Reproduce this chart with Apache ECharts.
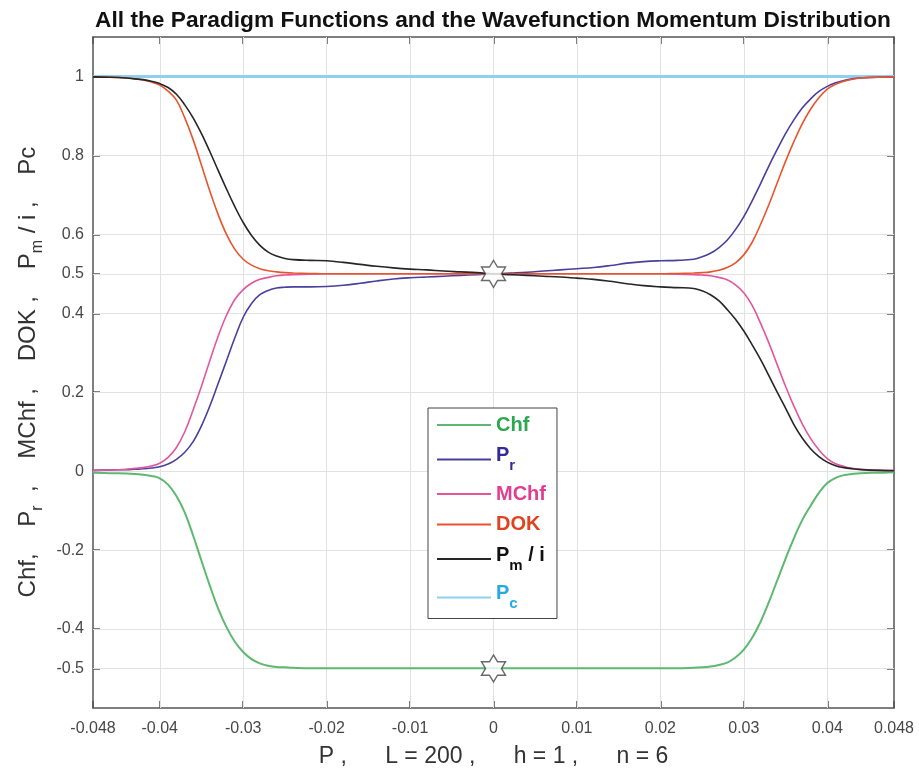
<!DOCTYPE html>
<html><head><meta charset="utf-8">
<script src="https://cdn.jsdelivr.net/npm/echarts@6/dist/echarts.min.js"></script>
<style>html,body{margin:0;padding:0;background:#fff}#c{width:919px;height:775px}</style>
</head><body><div id="c"></div><script>
// momentum values P (finer where the curves change)
const P = [-0.048,-0.046,-0.044,-0.043,-0.042,-0.041,-0.040,-0.039,-0.038,-0.037,-0.036,-0.035,-0.034,-0.033,-0.032,-0.031,-0.030,-0.029,-0.028,-0.027,-0.026,-0.025,-0.024,
  -0.022,-0.020,-0.018,-0.016,-0.014,-0.012,-0.010,-0.008,-0.006,-0.004,-0.002,0,0.002,0.004,0.006,0.008,0.010,0.012,0.014,0.016,0.018,0.020,0.022,
  0.024,0.025,0.026,0.027,0.028,0.029,0.030,0.031,0.032,0.033,0.034,0.035,0.036,0.037,0.038,0.039,0.040,0.041,0.042,0.043,0.044,0.046,0.048];
const chf = [-0.004,-0.005,-0.006,-0.007,-0.009,-0.012,-0.018,-0.034,-0.063,-0.105,-0.163,-0.227,-0.29,-0.348,-0.395,-0.432,-0.458,-0.476,-0.487,-0.493,-0.496,-0.497,-0.498,
  -0.499,-0.499,-0.499,-0.499,-0.499,-0.499,-0.499,-0.499,-0.499,-0.499,-0.499,-0.499,-0.499,-0.499,-0.499,-0.499,-0.499,-0.499,-0.499,-0.499,-0.499,-0.499,-0.499,
  -0.498,-0.497,-0.495,-0.491,-0.485,-0.472,-0.452,-0.422,-0.382,-0.332,-0.277,-0.222,-0.17,-0.124,-0.088,-0.055,-0.03,-0.017,-0.01,-0.007,-0.005,-0.004,-0.003];
const pr = [0.002,0.003,0.004,0.005,0.006,0.008,0.011,0.018,0.03,0.048,0.075,0.115,0.165,0.222,0.28,0.338,0.39,0.425,0.447,0.458,0.464,0.466,0.467,
  0.467,0.468,0.471,0.476,0.482,0.487,0.49,0.492,0.494,0.496,0.498,0.5,0.502,0.504,0.507,0.51,0.513,0.516,0.521,0.527,0.531,0.533,0.534,
  0.537,0.543,0.552,0.566,0.585,0.612,0.645,0.685,0.728,0.773,0.815,0.855,0.89,0.92,0.943,0.962,0.975,0.984,0.99,0.994,0.996,0.998,0.999];
const mchf = [0.002,0.003,0.005,0.007,0.009,0.013,0.02,0.035,0.06,0.1,0.155,0.215,0.28,0.342,0.395,0.435,0.46,0.476,0.486,0.491,0.495,0.497,0.498,
  0.499,0.5,0.5,0.5,0.5,0.5,0.5,0.5,0.5,0.5,0.5,0.5,0.5,0.5,0.5,0.5,0.5,0.5,0.5,0.5,0.5,0.5,0.499,
  0.498,0.497,0.495,0.491,0.485,0.472,0.452,0.42,0.375,0.325,0.27,0.215,0.165,0.12,0.083,0.054,0.032,0.019,0.012,0.007,0.005,0.003,0.002];
const dok = [0.999,0.998,0.996,0.994,0.991,0.986,0.978,0.963,0.94,0.895,0.84,0.775,0.71,0.65,0.6,0.562,0.537,0.522,0.513,0.508,0.505,0.503,0.502,
  0.501,0.5,0.5,0.5,0.5,0.5,0.5,0.5,0.5,0.5,0.5,0.5,0.5,0.5,0.5,0.5,0.5,0.5,0.5,0.5,0.5,0.5,0.501,
  0.502,0.503,0.505,0.509,0.516,0.528,0.548,0.58,0.625,0.675,0.73,0.785,0.835,0.88,0.917,0.946,0.968,0.98,0.988,0.993,0.996,0.998,0.999];
const pm = [0.999,0.998,0.996,0.994,0.992,0.988,0.982,0.972,0.955,0.928,0.895,0.855,0.81,0.762,0.715,0.67,0.63,0.597,0.572,0.555,0.545,0.539,0.536,
  0.534,0.533,0.529,0.524,0.519,0.515,0.512,0.51,0.507,0.505,0.503,0.5,0.498,0.496,0.494,0.492,0.489,0.486,0.481,0.475,0.47,0.467,0.465,
  0.463,0.457,0.447,0.432,0.41,0.385,0.355,0.32,0.283,0.242,0.2,0.16,0.118,0.084,0.057,0.037,0.023,0.014,0.009,0.006,0.004,0.002,0.001];
const pcP = [-0.048, 0.048];
const pcV = [1, 1];
const starP = [0, 0];
const starV = [0.5, -0.5];
const yTicks = [1, 0.8, 0.6, 0.5, 0.4, 0.2, 0, -0.2, -0.4, -0.5];
const xTicks = [-0.048, -0.04, -0.03, -0.02, -0.01, 0, 0.01, 0.02, 0.03, 0.04, 0.048];
const xGrid = [-0.04, -0.03, -0.02, -0.01, 0, 0.01, 0.02, 0.03, 0.04];
const names = ['Chf', 'Pr', 'MChf', 'DOK', 'Pm / i', 'Pc'];

const FONT = 'Liberation Sans, Arial, Helvetica, sans-serif';
const pair = (xs, ys) => xs.map((x, i) => [x, ys[i]]);
const starPath = 'path://M100 0 L128.9 50 L186.6 50 L157.7 100 L186.6 150 L128.9 150 L100 200 L71.1 150 L13.4 150 L42.3 100 L13.4 50 L71.1 50 Z';

const colors = {Chf:'#5cb96f', Pr:'#4a3f9e', MChf:'#e2579c', DOK:'#e8542c', 'Pm / i':'#262626', Pc:'#8fd0ef'};
const txt = {Chf:'#2ea84f', Pr:'#34289a', MChf:'#e03f90', DOK:'#e0431f', 'Pm / i':'#111', Pc:'#27aae1'};

function main(c){ return {fontSize:20, fontWeight:'bold', color:c, fontFamily:FONT, verticalAlign:'top'}; }
function sub(c){ return {fontSize:15, fontWeight:'bold', color:c, fontFamily:FONT, verticalAlign:'top', padding:[13,0,0,0]}; }
const legendRich = {
  chf: main(txt.Chf), pr: main(txt.Pr), prs: sub(txt.Pr), mchf: main(txt.MChf), dok: main(txt.DOK),
  pm: main(txt['Pm / i']), pms: sub(txt['Pm / i']), pc: main(txt.Pc), pcs: sub(txt.Pc)
};
const legendFmt = {Chf:'{chf|Chf}', Pr:'{pr|P}{prs|r}', MChf:'{mchf|MChf}', DOK:'{dok|DOK}', 'Pm / i':'{pm|P}{pms|m}{pm| / i}', Pc:'{pc|P}{pcs|c}'};

function lineSeries(name, data, width){
  return {name, type:'line', data, xAxisIndex:0, yAxisIndex:0, showSymbol:false, symbol:'none',
    smooth:0.4, lineStyle:{color:colors[name], width}, itemStyle:{color:colors[name]}, z:3};
}

const axisCol = '#555';
const chart = echarts.init(document.getElementById('c'), null, {renderer:'canvas'});
chart.setOption({
  animation:false,
  textStyle:{fontFamily:FONT},
  title:{text:'All the Paradigm Functions and the Wavefunction Momentum Distribution', left:488, top:4, textAlign:'center',
    textStyle:{fontSize:22.7, fontWeight:'bold', color:'#111', fontFamily:FONT}},
  grid:{left:93, right:25, top:37, bottom:67, containLabel:false},
  xAxis:[
    {type:'value', min:-0.048, max:0.048,
     axisLine:{onZero:false, lineStyle:{color:axisCol, width:1.5}},
     axisTick:{inside:true, length:7, customValues:xTicks, lineStyle:{color:axisCol, width:1.5}},
     axisLabel:{customValues:xTicks, fontSize:16, color:'#474747', margin:13, fontFamily:FONT},
     splitLine:{show:false},
     name:'P ,      L = 200 ,      h = 1 ,      n = 6', nameLocation:'middle', nameGap:37,
     nameTextStyle:{fontSize:23, color:'#333', fontFamily:FONT}},
    {type:'value', position:'top', min:-0.048, max:0.048,
     axisLine:{onZero:false, lineStyle:{color:axisCol, width:1.5}},
     axisTick:{inside:true, length:7, customValues:xTicks, lineStyle:{color:axisCol, width:1.5}},
     axisLabel:{show:false}, splitLine:{show:false}}
  ],
  yAxis:[
    {type:'value', min:-0.6, max:1.1,
     axisLine:{onZero:false, lineStyle:{color:axisCol, width:1.5}},
     axisTick:{inside:true, length:7, customValues:yTicks, lineStyle:{color:axisCol, width:1.5}},
     axisLabel:{customValues:yTicks, fontSize:16, color:'#474747', margin:9, fontFamily:FONT},
     splitLine:{show:false}},
    {type:'value', position:'right', min:-0.6, max:1.1,
     axisLine:{onZero:false, lineStyle:{color:axisCol, width:1.5}},
     axisTick:{inside:true, length:7, customValues:yTicks, lineStyle:{color:axisCol, width:1.5}},
     axisLabel:{show:false}, splitLine:{show:false}}
  ],
  legend:{
    data:names, orient:'vertical', left:428, top:408, icon:'rect', itemWidth:54, itemHeight:2, itemGap:10.5,
    padding:[7, 11, 7, 9], backgroundColor:'#fff', borderColor:'#444', borderWidth:1, borderRadius:0,
    selectedMode:false, z:6,
    formatter:(n) => legendFmt[n],
    textStyle:{rich:legendRich}
  },
  graphic:[{
    type:'text', x:31, y:372, rotation:Math.PI/2, z:10,
    style:{
      text:'{n|Chf,    P}{s|r}{n|  ,    MChf ,    DOK ,    P}{s|m}{n| / i ,    Pc}',
      rich:{
        n:{fontSize:24, fill:'#333', color:'#333', fontFamily:FONT, verticalAlign:'top'},
        s:{fontSize:16, fill:'#333', color:'#333', fontFamily:FONT, verticalAlign:'top', padding:[14,0,0,0]}
      },
      align:'center', verticalAlign:'middle', textAlign:'center', textVerticalAlign:'middle'
    }
  }],
  series:[
    {name:'grid', type:'line', data:[], xAxisIndex:0, yAxisIndex:0, z:1, silent:true,
     markLine:{silent:true, z:1, symbol:['none','none'], animation:false, label:{show:false},
       lineStyle:{color:'#e2e2e2', width:1, type:'solid'},
       emphasis:{disabled:true},
       data:[...yTicks.map(v => ({yAxis:v})), ...xGrid.map(v => ({xAxis:v}))]}},
    {name:'Pc', type:'line', data:pair(pcP, pcV), showSymbol:false, symbol:'none',
     lineStyle:{color:colors.Pc, width:3}, itemStyle:{color:colors.Pc}, z:2},
    lineSeries('Chf', pair(P, chf), 2),
    lineSeries('Pr', pair(P, pr), 1.6),
    lineSeries('MChf', pair(P, mchf), 1.6),
    lineSeries('DOK', pair(P, dok), 1.6),
    lineSeries('Pm / i', pair(P, pm), 1.6),
    {name:'stars', type:'scatter', data:pair(starP, starV), symbol:starPath, symbolSize:[24, 27],
     itemStyle:{color:'#fff', borderColor:'#444', borderWidth:1.4}, z:10, silent:true}
  ]
});
</script></body></html>
